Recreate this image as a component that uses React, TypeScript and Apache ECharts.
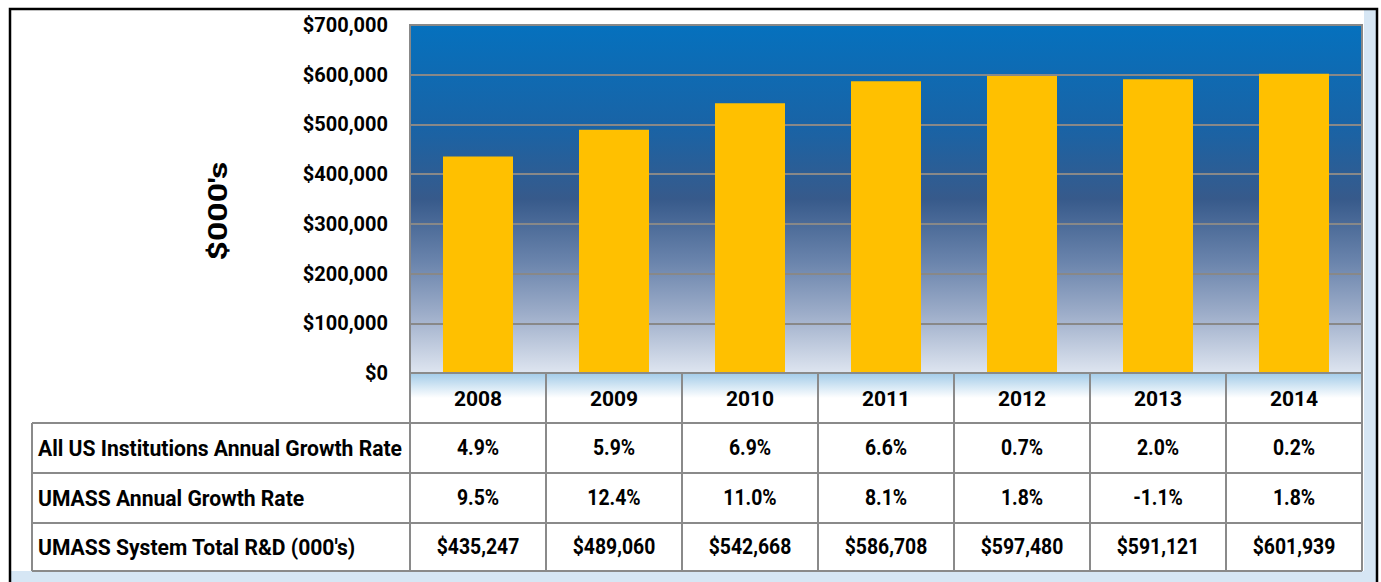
import React, { useEffect, useRef } from "react";
import * as echarts from "echarts";

const years = ["2008", "2009", "2010", "2011", "2012", "2013", "2014"];
const totalRD = [435247, 489060, 542668, 586708, 597480, 591121, 601939];
const usGrowth = ["4.9%", "5.9%", "6.9%", "6.6%", "0.7%", "2.0%", "0.2%"];
const umassGrowth = ["9.5%", "12.4%", "11.0%", "8.1%", "1.8%", "-1.1%", "1.8%"];
const totalLabels = ["$435,247", "$489,060", "$542,668", "$586,708", "$597,480", "$591,121", "$601,939"];
const rowLabels = [
  "All US Institutions Annual Growth Rate",
  "UMASS Annual Growth Rate",
  "UMASS System Total R&D (000's)",
];
const yAxisName = "$000's";

const FONT = "Roboto, 'DejaVu Sans Condensed', sans-serif";
const GRID = { left: 410, top: 25, right: 19, bottom: 209 };
const W = 1381;
const H = 582;
const LINE = "#8a8a8a";

export default function App() {
  const ref = useRef<HTMLDivElement>(null);
  useEffect(() => {
    if (!ref.current) return;
    const chart = echarts.init(ref.current, null, { renderer: "svg", width: W, height: H });
    const plotBottom = H - GRID.bottom;
    chart.setOption({
      animation: false,
      backgroundColor: "#ffffff",
      grid: {
        left: GRID.left,
        top: GRID.top,
        right: GRID.right,
        bottom: GRID.bottom,
        outerBoundsMode: "none",
        show: true,
        borderColor: "#888888",
        borderWidth: 2,
        backgroundColor: new echarts.graphic.LinearGradient(0, 0, 0, 1, [
          { offset: 0, color: "#0571be" },
          { offset: 0.3, color: "#1a63a5" },
          { offset: 0.5, color: "#375a8b" },
          { offset: 0.68, color: "#6a84ac" },
          { offset: 0.83, color: "#9dadc9" },
          { offset: 1, color: "#dee5f0" },
        ]),
      },
      xAxis: {
        type: "category",
        data: years,
        axisLine: { show: true, lineStyle: { color: LINE, width: 2 } },
        axisTick: { show: false },
        axisLabel: {
          color: "#000",
          fontFamily: FONT,
          fontWeight: "bold",
          fontSize: 21,
          margin: 15,
        },
        z: 5,
      },
      yAxis: {
        type: "value",
        min: 0,
        max: 700000,
        interval: 100000,
        axisLine: { show: false },
        axisTick: { show: false },
        splitLine: { show: true, lineStyle: { color: "#888888", width: 2 } },
        axisLabel: {
          color: "#000",
          fontFamily: FONT,
          fontWeight: "bold",
          fontSize: 20,
          margin: 22,
          formatter: (v: number) => "$" + v.toLocaleString("en-US"),
        },
      },
      series: [
        {
          type: "bar",
          data: totalRD,
          barWidth: 70,
          itemStyle: { color: "#ffc000" },
        },
      ],
    });

    const centers = years.map((y) => chart.convertToPixel({ xAxisIndex: 0 }, y) as number);
    const colW = centers[1] - centers[0];
    const left = centers[0] - colW / 2;
    const right = centers[centers.length - 1] + colW / 2;
    const rowTops = [plotBottom, plotBottom + 50, plotBottom + 100, plotBottom + 150];
    const tableBottom = plotBottom + 198;
    const tableLeft = 32;

    const elements: any[] = [];
    elements.push({
      type: "rect",
      shape: { x: right + 2, y: 10, width: W - right - 7, height: H },
      style: { fill: "#d6e6f4" },
      z: -10,
    });
    elements.push({
      type: "rect",
      shape: { x: 11, y: tableBottom, width: W - 16, height: H - tableBottom },
      style: { fill: "#d6e6f4" },
      z: -10,
    });
    elements.push({
      type: "rect",
      shape: { x: 10, y: 9, width: W - 14, height: H + 20 },
      style: { fill: null, stroke: "#000", lineWidth: 2.5 },
      z: 20,
    });
    elements.push({
      type: "rect",
      shape: { x: left, y: plotBottom + 1, width: right - left, height: 24 },
      style: {
        fill: new echarts.graphic.LinearGradient(0, 0, 0, 1, [
          { offset: 0, color: "#a6cde9" },
          { offset: 1, color: "#ffffff" },
        ]),
      },
      z: -5,
    });
    [rowTops[1], rowTops[2], rowTops[3], tableBottom].forEach((y) => {
      elements.push({
        type: "line",
        shape: { x1: tableLeft, y1: y, x2: right, y2: y },
        style: { stroke: LINE, lineWidth: 2 },
        z: 10,
      });
    });
    for (let i = 0; i <= years.length; i++) {
      const x = left + i * colW;
      elements.push({
        type: "line",
        shape: { x1: x, y1: plotBottom, x2: x, y2: tableBottom },
        style: { stroke: LINE, lineWidth: 2 },
        z: 10,
      });
    }
    elements.push({
      type: "line",
      shape: { x1: tableLeft, y1: rowTops[1], x2: tableLeft, y2: tableBottom },
      style: { stroke: LINE, lineWidth: 2 },
      z: 10,
    });
    const rows = [usGrowth, umassGrowth, totalLabels];
    rows.forEach((vals, r) => {
      const yc = (rowTops[r + 1] + (r + 2 < rowTops.length ? rowTops[r + 2] : tableBottom)) / 2;
      elements.push({
        type: "text",
        x: 38,
        y: yc,
        scaleX: 0.96,
        style: {
          text: rowLabels[r],
          fill: "#000",
          font: `bold 22px ${FONT}`,
          textAlign: "left",
          textVerticalAlign: "middle",
        },
        z: 11,
      });
      vals.forEach((v, i) => {
        elements.push({
          type: "text",
          x: centers[i],
          y: yc,
          scaleX: 0.88,
          style: {
            text: v,
            fill: "#000",
            font: `bold 22px ${FONT}`,
            textAlign: "center",
            textVerticalAlign: "middle",
          },
          z: 11,
        });
      });
    });
    elements.push({
      type: "text",
      x: 218,
      y: 211,
      rotation: Math.PI / 2,
      scaleX: 1.3,
      style: {
        text: yAxisName,
        fill: "#000",
        font: `bold 26px ${FONT}`,
        textAlign: "center",
        textVerticalAlign: "middle",
      },
      z: 11,
    });

    chart.setOption({ graphic: { elements } });
    return () => chart.dispose();
  }, []);
  return (
    <div
      ref={ref}
      style={{ position: "fixed", left: 0, top: 0, width: W, height: H }}
    />
  );
}
